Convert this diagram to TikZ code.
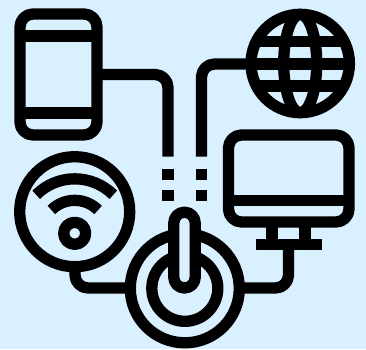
\documentclass[tikz,border=0pt]{standalone}
\definecolor{bgc}{RGB}{216,240,255}
\tikzset{
  icon/.style={draw=black,line width=11.3pt,line join=round},
  wire/.style={icon,rounded corners=13pt},
  dashseg/.style={draw=black,line width=11.3pt}
}
\begin{document}
\begin{tikzpicture}[x=1pt,y=-1pt]
\path[fill=bgc] (0,0) rectangle (366,349);
\useasboundingbox (0,0) rectangle (366,349);
% anchor points of the connectors
\coordinate (phoneR) at (97,74.5);
\coordinate (leftEnd) at (168,156.5);
\coordinate (globeL) at (251,64);
\coordinate (rightEnd) at (201.5,156.5);
\coordinate (wifiB) at (75,267);
\coordinate (ringL) at (130,288);
\coordinate (ringR) at (240,288);
\coordinate (monB) at (288.5,244.5);
% connectors
\draw[wire] (phoneR) -| (leftEnd);
\draw[wire] (globeL) -| (rightEnd);
\draw[wire] (wifiB) |- (ringL);
\draw[wire] (monB) |- (ringR);
% dashes
\foreach \x in {168,201.5}{
  \draw[dashseg] (\x,168.5) -- (\x,179.5);
  \draw[dashseg] (\x,190) -- (\x,201);
}
% phone
\draw[icon,rounded corners=13pt] (20,14) rectangle (97,135);
\draw[icon] (20,36) -- (97,36);
\draw[icon] (20,113) -- (97,113);
% globe
\draw[icon] (300.2,63.5) circle [radius=49.2];
\draw[icon] (300.2,63.5) ellipse [x radius=16.5,y radius=49.2];
\begin{scope}
\clip (300.2,63.5) circle [radius=50];
\draw[icon] (251,41.5) -- (349,41.5);
\draw[icon] (251,64) -- (349,64);
\draw[icon] (251,86) -- (349,86);
\end{scope}
% monitor
\draw[icon,rounded corners=13pt] (228.5,135) rectangle (349,222);
\draw[icon] (228.5,200.5) -- (349,200.5);
\draw[icon] (272,222) -- (272,244.5);
\draw[icon] (305,222) -- (305,244.5);
\draw[icon] (255.7,244.5) -- (321.7,244.5);
% wifi
\draw[icon] (74.7,211.7) circle [radius=55];
\draw[icon] (74.7,233.3) circle [radius=11];
\draw[icon] (74.7,233.3) ++(-38.5,-38.5) arc [start angle=-135,end angle=-45,radius=54.5];
\draw[icon] (74.7,233.3) ++(-23.3,-23.3) arc [start angle=-135,end angle=-45,radius=33];
% power
\draw[icon] (184.8,288.3) circle [radius=54.5];
\draw[icon] (184.8,288.3) circle [radius=33];
\draw[icon,fill=bgc,rounded corners=10.7pt] (173.8,212.2) rectangle (195.2,288);
\end{tikzpicture}
\end{document}
